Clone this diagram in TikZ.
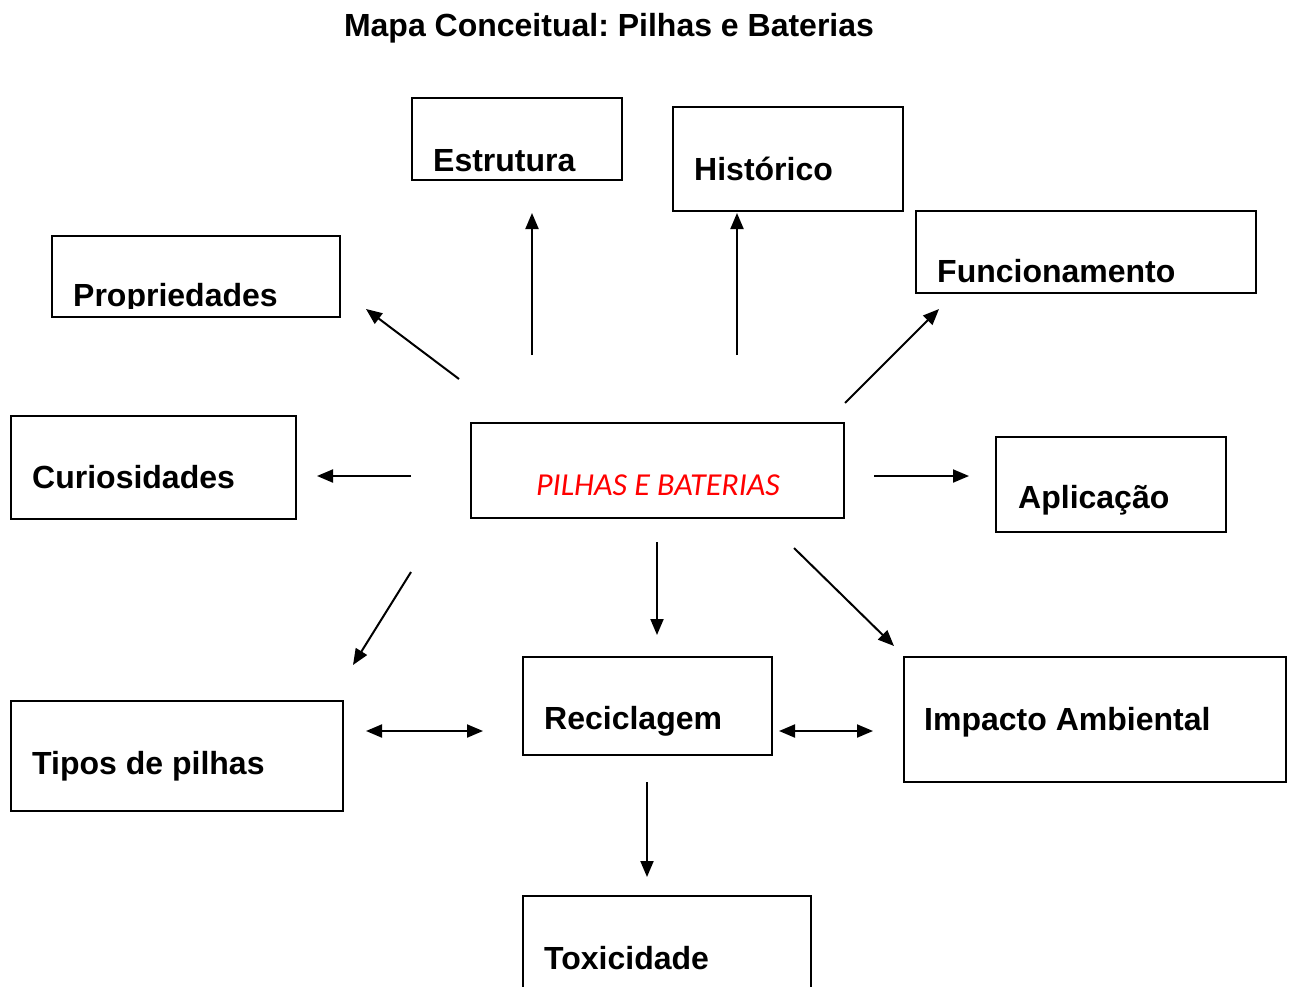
\documentclass[tikz,border=0pt]{standalone}
\usepackage{fontspec}
\setmainfont{Liberation Sans}
\newfontfamily\carl{Carlito}
\usetikzlibrary{arrows.meta}
\frenchspacing
\begin{document}
\begin{tikzpicture}[x=1pt,y=-1pt,
  boxst/.style={draw,line width=2pt,inner sep=0pt,rectangle},
  lbl/.style={anchor=base west,inner sep=0pt,font=\fontsize{32}{38}\selectfont\bfseries},
  arr/.style={line width=2pt,-{Triangle[length=16pt,width=13pt]}},
  darr/.style={line width=2pt,{Triangle[length=16pt,width=13pt]}-{Triangle[length=16pt,width=13pt]}}]
\useasboundingbox (0,0) rectangle (1295,986);

\node[anchor=base,inner sep=0pt,font=\fontsize{32}{38}\selectfont\bfseries] (title) at (609,36) {Mapa Conceitual: Pilhas e Baterias};

% boxes
\node[boxst,minimum width=210pt,minimum height=82pt] (est) at (517,139) {};
\node[boxst,minimum width=230pt,minimum height=104pt] (hist) at (788,159) {};
\node[boxst,minimum width=288pt,minimum height=81pt] (prop) at (196,276.5) {};
\node[boxst,minimum width=340pt,minimum height=82pt] (func) at (1086,252) {};
\node[boxst,minimum width=285pt,minimum height=103pt] (cur) at (153.5,467.5) {};
\node[boxst,minimum width=373pt,minimum height=95pt] (pb) at (657.5,470.5) {};
\node[boxst,minimum width=230pt,minimum height=95pt] (apl) at (1111,484.5) {};
\node[boxst,minimum width=332pt,minimum height=110pt] (tipos) at (177,756) {};
\node[boxst,minimum width=249pt,minimum height=98pt] (rec) at (647.5,706) {};
\node[boxst,minimum width=382pt,minimum height=125pt] (imp) at (1095,719.5) {};
\node[boxst,minimum width=288pt,minimum height=114pt] (tox) at (667,953) {};

% labels
\node[lbl] (estt) at (433,171.5) {Estrutura};
\node[lbl] (histt) at (694,180) {Histórico};
\begin{scope}
  \clip (52,236) rectangle (340,308);
  \node[lbl] (propt) at (73,306.5) {Propriedades};
\end{scope}
\node[lbl] (funct) at (937,282) {Funcionamento};
\node[lbl] (curt) at (32,488) {Curiosidades};
\node[anchor=base,inner sep=0pt,text=red,font=\carl\itshape\fontsize{32}{38}\selectfont] (pbt) at (658,495) {PILHAS E BATERIAS};
\node[lbl] (aplt) at (1018,508) {Aplicação};
\node[lbl] (tipost) at (32,774) {Tipos de pilhas};
\node[lbl] (rect) at (544,729) {Reciclagem};
\node[lbl] (impt) at (924,730) {Impacto Ambiental};
\node[lbl] (toxt) at (544,969) {Toxicidade};

% arrow endpoints
\coordinate (a1s) at (459,379); \coordinate (a1e) at (366,309);
\coordinate (a2s) at (532,355); \coordinate (a2e) at (532,213);
\coordinate (a3s) at (737,355); \coordinate (a3e) at (737,213);
\coordinate (a4s) at (845,403); \coordinate (a4e) at (939,309);
\coordinate (a5s) at (411,476); \coordinate (a5e) at (317,476);
\coordinate (a6s) at (874,476); \coordinate (a6e) at (969,476);
\coordinate (a7s) at (411,572); \coordinate (a7e) at (353,665);
\coordinate (a8s) at (657,542); \coordinate (a8e) at (657,635);
\coordinate (a9s) at (794,548); \coordinate (a9e) at (894,646);
\coordinate (a10s) at (366,731); \coordinate (a10e) at (483,731);
\coordinate (a11s) at (779,731); \coordinate (a11e) at (873,731);
\coordinate (a12s) at (647,782); \coordinate (a12e) at (647,877);

\draw[arr] (a1s) -- (a1e);
\draw[arr] (a2s) -- (a2e);
\draw[arr] (a3s) -- (a3e);
\draw[arr] (a4s) -- (a4e);
\draw[arr] (a5s) -- (a5e);
\draw[arr] (a6s) -- (a6e);
\draw[arr] (a7s) -- (a7e);
\draw[arr] (a8s) -- (a8e);
\draw[arr] (a9s) -- (a9e);
\draw[darr] (a10s) -- (a10e);
\draw[darr] (a11s) -- (a11e);
\draw[arr] (a12s) -- (a12e);
\end{tikzpicture}
\end{document}
